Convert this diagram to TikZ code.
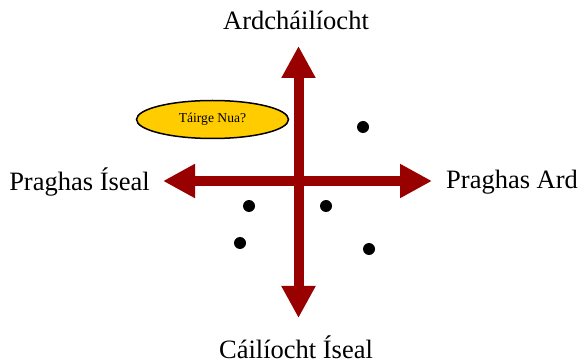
\documentclass[tikz,border=0pt]{standalone}
\usepackage{fontspec}
\setmainfont{Liberation Serif}
\usetikzlibrary{arrows.meta, shapes.geometric}
\definecolor{cred}{HTML}{990000}
\definecolor{cgold}{HTML}{FFCC00}
\tikzset{
  every picture/.style={x=1pt, y=-1pt},
  axis/.style={{Triangle[length=32pt, width=32pt]}-{Triangle[length=32pt, width=32pt]}, draw=cred, line width=10pt},
  axislabel/.style={font=\fontsize{26.5}{30}\selectfont, inner sep=0pt},
  dot/.style={circle, fill=black, minimum size=12pt, inner sep=0pt},
  product/.style={ellipse, draw=black, fill=cgold, line width=1.5pt, minimum width=152pt, minimum height=38pt, inner sep=0pt, font=\fontsize{13.6}{16}\selectfont},
}
\begin{document}
\begin{tikzpicture}
  \useasboundingbox (0,0) rectangle (581,363);

  % ---- axis ends
  \coordinate (up)    at (298.5,46);
  \coordinate (down)  at (298.5,318);
  \coordinate (left)  at (163,181);
  \coordinate (right) at (432,181);

  \draw[axis] (down) -- (up);
  \draw[axis] (left) -- (right);

  % ---- labels
  \node[axislabel] (high)  at (296,20)  {Ardcháilíocht};
  \node[axislabel] (low)   at (296,347) {Cáilíocht Íseal};
  \node[axislabel, anchor=east] (cheap) at (150,182) {Praghas Íseal};
  \node[axislabel, anchor=west] (dear)  at (446,182) {Praghas Ard};

  % ---- products
  \node[product] (new) at (212.5,119.5) {Táirge Nua?};
  \foreach \p/\q [count=\i] in {363/127, 249/206, 326/206, 240/243, 369/249}
    \node[dot] (d\i) at (\p,\q) {};
\end{tikzpicture}
\end{document}
